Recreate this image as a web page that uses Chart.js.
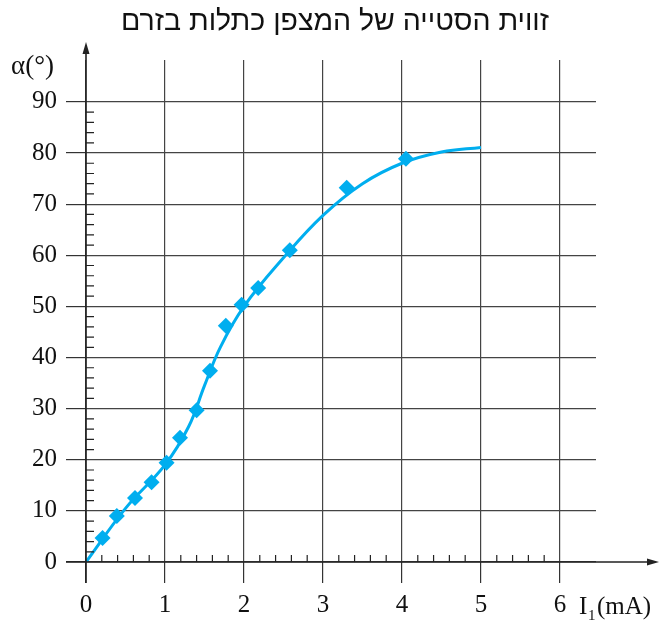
<!DOCTYPE html>
<html>
<head>
<meta charset="utf-8">
<script src="https://cdn.jsdelivr.net/npm/chart.js@4/dist/chart.umd.min.js"></script>
<style>body{margin:0;background:#fff}</style>
</head>
<body>
<canvas id="chart1" width="669" height="622"></canvas>
<script>
// measured points
var currentMA = [0.21, 0.39, 0.62, 0.83, 1.02, 1.19, 1.40, 1.57, 1.77, 1.97, 2.18, 2.58, 3.30, 4.05];
var angleDeg = [4.7, 9.0, 12.5, 15.6, 19.4, 24.3, 29.7, 37.4, 46.2, 50.3, 53.6, 61.0, 73.2, 78.9];

// hand drawn trend curve
var fitX = [0, 0.5, 1.0, 1.3, 1.5, 1.7, 2.0, 2.5, 3.0, 3.5, 4.0, 4.5, 5.0];
var fitY = [0, 10.5, 19, 26.5, 34.5, 42, 50, 59.5, 67.8, 74, 78, 80.2, 81.1];

var xTicks = [0, 1, 2, 3, 4, 5, 6];
var yTicks = [0, 10, 20, 30, 40, 50, 60, 70, 80, 90];

var chartTitle = 'זווית הסטייה של המצפן כתלות בזרם';

var blue = '#00aeef';
var ink = '#222';
var serif = '"Liberation Serif", "Times New Roman", serif';

function pts(xs, ys) {
    return xs.map(function (x, i) { return {x: x, y: ys[i]}; });
}

var axesPlugin = {
    id: 'axes',
    afterDatasetsDraw: function (chart) {
        var c = chart.ctx, xs = chart.scales.x, ys = chart.scales.y;
        var x0 = xs.getPixelForValue(0), y0 = ys.getPixelForValue(0);
        c.save();
        c.strokeStyle = ink;
        c.fillStyle = ink;
        // minor ticks
        c.lineWidth = 1.2;
        c.beginPath();
        for (var i = 1; i < 30; i++) {
            if (i % 5 === 0) continue;
            var px = xs.getPixelForValue(i * 0.2);
            c.moveTo(px, y0);
            c.lineTo(px, y0 - 7);
        }
        for (var j = 1; j < 45; j++) {
            if (j % 5 === 0) continue;
            var py = ys.getPixelForValue(j * 2);
            c.moveTo(x0, py);
            c.lineTo(x0 + 8, py);
        }
        c.stroke();
        // axis lines with arrows
        c.lineWidth = 1.6;
        c.beginPath();
        c.moveTo(x0, 583);
        c.lineTo(x0, 50);
        c.moveTo(66, y0);
        c.lineTo(650, y0);
        c.stroke();
        c.beginPath();
        c.moveTo(x0, 42);
        c.lineTo(x0 - 3.5, 54);
        c.lineTo(x0 + 3.5, 54);
        c.closePath();
        c.fill();
        c.beginPath();
        c.moveTo(659, y0);
        c.lineTo(647, y0 - 3.5);
        c.lineTo(647, y0 + 3.5);
        c.closePath();
        c.fill();
        // axis titles
        c.fillStyle = '#111';
        c.textBaseline = 'alphabetic';
        c.textAlign = 'left';
        c.font = '27px ' + serif;
        c.fillText('\u03b1(\u00b0)', 11, 74);
        c.font = '25px ' + serif;
        c.fillText('I', 579, 614);
        c.font = '15px ' + serif;
        c.fillText('1', 588, 620);
        c.font = '25px ' + serif;
        c.fillText('(mA)', 597, 614);
        // title
        c.textAlign = 'center';
        c.font = '28.5px "Liberation Sans", "DejaVu Sans", sans-serif';
        c.fillText(chartTitle, 335, 30);
        c.restore();
    }
};

var ctx = document.getElementById('chart1');

var data = {
    datasets: [{
        label: 'fit',
        data: pts(fitX, fitY),
        showLine: true,
        borderColor: blue,
        borderWidth: 3,
        pointRadius: 0,
        tension: 0.4,
        fill: false,
        order: 2
    }, {
        label: 'measured',
        data: pts(currentMA, angleDeg),
        showLine: false,
        pointStyle: 'rectRot',
        pointRadius: 8,
        backgroundColor: blue,
        borderColor: blue,
        borderWidth: 0,
        order: 1
    }]
};

var options = {
    responsive: false,
    animation: false,
    layout: {padding: {top: 60, right: 73, bottom: 0, left: 0}},
    plugins: {
        legend: {display: false},
        tooltip: {enabled: false},
        title: {display: false}
    },
    scales: {
        x: {
            type: 'linear',
            min: 0,
            max: 6.456,
            afterBuildTicks: function (s) { s.ticks = xTicks.map(function (v) { return {value: v}; }); },
            afterFit: function (s) { s.height = 60; },
            border: {display: false},
            grid: {color: '#444', lineWidth: 1.2, tickLength: 21, tickColor: '#333'},
            ticks: {color: '#111', padding: 7, maxRotation: 0,
                font: {family: serif, size: 25}}
        },
        y: {
            type: 'linear',
            min: 0,
            max: 98.2,
            afterBuildTicks: function (s) { s.ticks = yTicks.map(function (v) { return {value: v}; }); },
            afterFit: function (s) { s.width = 86; },
            border: {display: false},
            grid: {color: '#444', lineWidth: 1.2, tickLength: 20, tickColor: '#333'},
            ticks: {color: '#111', padding: 9,
                font: {family: serif, size: 25}}
        }
    }
};

var chart1 = new Chart(ctx, {
    type: 'scatter',
    data: data,
    options: options,
    plugins: [axesPlugin]
});
</script>
</body>
</html>
